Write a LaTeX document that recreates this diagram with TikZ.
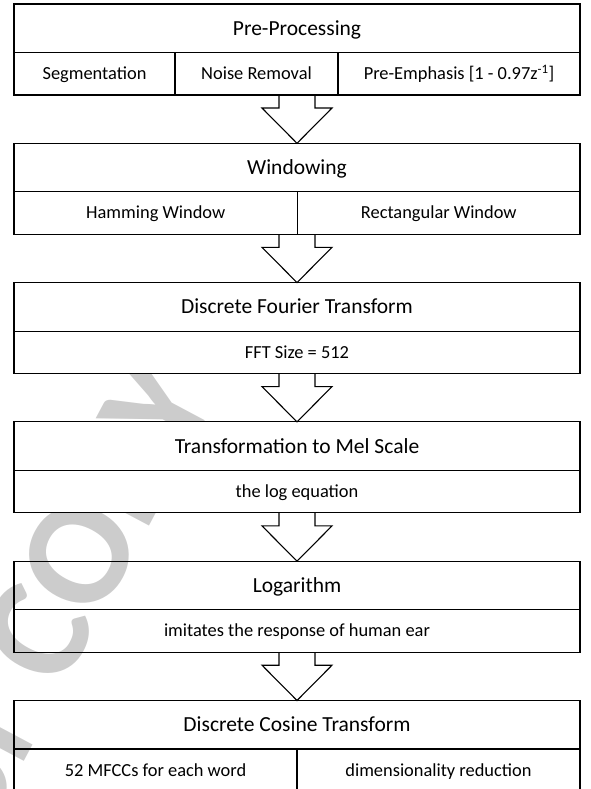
\documentclass[tikz,border=0pt]{standalone}
\usepackage{fontspec}
\setmainfont{Carlito}
\usetikzlibrary{calc}
\begin{document}
\begin{tikzpicture}[x=1pt,y=-1pt,
  cell/.style={draw=black,line width=1.1pt,fill=white,anchor=north west,inner sep=0pt,outer sep=0pt,
    minimum height=42.5pt,text height=11.85pt,text depth=0pt,font=\fontsize{18.4}{22}\selectfont},
  headcell/.style={cell,minimum height=48.5pt,minimum width=566pt,text height=13.85pt,font=\fontsize{21.5}{25}\selectfont},
  open/.style={fill=none},
  blockarrow/.style={draw=black,line width=1.1pt,line join=miter},
  watermark/.style={text=black!20,font=\fontsize{150}{170}\selectfont\bfseries,rotate=62,anchor=base west,inner sep=0pt}
]
\useasboundingbox (0,0) rectangle (590,789);
\clip (0,0) rectangle (590,789);

% watermark
\node[watermark] (wm) at (61.3,692.2) {\llap{Author }COPY};

% Pre-Processing
\node[headcell] (ppT) at (14,4) {Pre-Processing};
\node[cell,minimum width=161pt] (ppA) at (14,52.5) {Segmentation};
\node[cell,minimum width=163pt] (ppB) at (175,52.5) {Noise Removal};
\node[cell,minimum width=242pt] (ppC) at (338,52.5) {Pre-Emphasis [1 - 0.97z\textsuperscript{-1}]};
\coordinate (ppBot) at (ppT.south |- ppA.south);

% Windowing
\node[headcell] (wT) at (14,143.3) {Windowing};
\node[cell,minimum width=283.5pt] (wA) at (14,191.8) {Hamming Window};
\node[cell,minimum width=282.5pt] (wB) at (297.5,191.8) {Rectangular Window};
\coordinate (wBot) at (wT.south |- wA.south);

% DFT
\node[headcell] (dT) at (14,282.6) {Discrete Fourier Transform};
\node[cell,minimum width=566pt] (dA) at (14,331.1) {FFT Size = 512};
\coordinate (dBot) at (dT.south |- dA.south);

% Mel
\node[headcell] (mT) at (14,421.9) {Transformation to Mel Scale};
\node[cell,minimum width=566pt] (mA) at (14,470.4) {the log equation};
\coordinate (mBot) at (mT.south |- mA.south);

% Logarithm
\node[headcell,open] (lT) at (14,561.2) {Logarithm};
\node[cell,open,minimum width=566pt] (lA) at (14,609.7) {imitates the response of human ear};
\coordinate (lBot) at (lT.south |- lA.south);

% DCT
\node[headcell,open] (cT) at (14,700.5) {Discrete Cosine Transform};
\node[cell,open,minimum width=283pt] (cA) at (14,749) {52 MFCCs for each word};
\node[cell,open,minimum width=283pt] (cB) at (297,749) {dimensionality reduction};

% block arrows
\foreach \a/\b in {ppBot/wT, wBot/dT, dBot/mT, mBot/lT, lBot/cT}{
  \draw[blockarrow] ($(\a)+(-18,0)$) -- ++(0,13) -- ++(-17,0) -- (\b.north)
    -- ($(\a)+(35,13)$) -- ($(\a)+(18,13)$) -- ($(\a)+(18,0)$);
}
\end{tikzpicture}
\end{document}
